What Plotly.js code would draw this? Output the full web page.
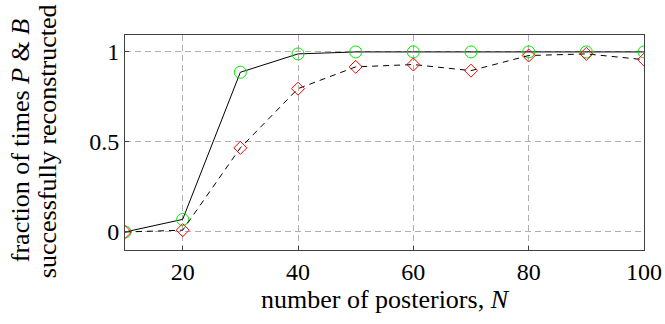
<!DOCTYPE html>
<html>
<head>
<meta charset="utf-8">
<script src="https://cdn.plot.ly/plotly-3.0.1.min.js"></script>
<style>html,body{margin:0;padding:0;background:#fff;}#chart{width:665px;height:324px;}</style>
</head>
<body>
<div id="chart"></div>
<script>
const N = [10, 20, 30, 40, 50, 60, 70, 80, 90, 100];
const fracP = [0, 0.07, 0.887, 0.989, 1, 1, 1, 1, 1, 1];
const fracB = [0, 0.01, 0.467, 0.796, 0.917, 0.93, 0.896, 0.98, 0.989, 0.957];
const xTicks = [20, 40, 60, 80, 100];
const yTicks = [0, 0.5, 1];
const yTickLabels = ['0', '0.5', '1'];
const yTitleLines = ['fraction of times <i>P</i> &amp; <i>B</i>', 'successfully reconstructed'];

const font = {family: '"Liberation Serif", "Times New Roman", serif', size: 24, color: '#000'};
const titleFont = {family: '"Liberation Serif", "Times New Roman", serif', size: 26, color: '#000'};

const traces = [
  {x: N, y: fracP, mode: 'lines+markers', line: {color: '#000', width: 1},
   marker: {symbol: 'circle-open', size: 12, color: '#00e800', line: {width: 1, color: '#00e800'}}},
  {x: N, y: fracB, mode: 'lines+markers', line: {color: '#000', width: 1, dash: '6px,5px'},
   marker: {symbol: 'diamond-open', size: 10, color: '#ff0000', line: {width: 1, color: '#ff0000'}}}
];

const layout = {
  width: 665, height: 324,
  margin: {l: 125, r: 21, t: 35, b: 74},
  paper_bgcolor: '#fff', plot_bgcolor: '#fff',
  showlegend: false,
  font: font,
  xaxis: {
    range: [10, 100], tickvals: xTicks, ticktext: xTicks.map(String),
    showgrid: true, gridcolor: '#b0b0b0', griddash: '6px,4px', gridwidth: 1,
    zeroline: false, showline: true, linecolor: '#404040', linewidth: 1, mirror: true,
    ticks: 'inside', ticklen: 4, tickcolor: '#404040', tickfont: font,
    title: {text: 'number of posteriors, <i>N</i>', font: titleFont, standoff: 5}
  },
  yaxis: {
    range: [-0.1, 1.094], tickvals: yTicks, ticktext: yTickLabels,
    showgrid: true, gridcolor: '#b0b0b0', griddash: '6px,4px', gridwidth: 1,
    zeroline: false, showline: true, linecolor: '#404040', linewidth: 1, mirror: true,
    ticks: 'inside', ticklen: 4, tickcolor: '#404040', tickfont: font,
    title: {text: ''}
  },
  annotations: yTitleLines.map((t, i) => ({
    text: t, xref: 'paper', yref: 'paper', x: i === 0 ? -0.2 : -0.148, y: 0.507,
    xanchor: 'center', yanchor: 'middle', textangle: -90, showarrow: false, font: titleFont
  }))
};

Plotly.newPlot('chart', traces, layout, {staticPlot: true, displayModeBar: false});
</script>
</body>
</html>
